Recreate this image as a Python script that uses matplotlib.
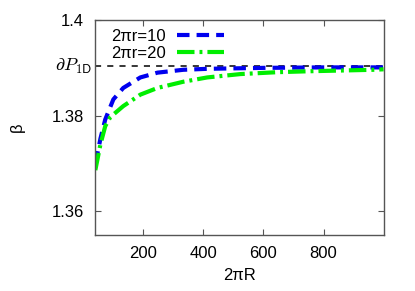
import numpy as np
from matplotlib import pyplot as plt

plt.rcParams['font.family'] = ['Liberation Sans', 'DejaVu Sans']
plt.rcParams['font.size'] = 12

# values
R_blue = [40, 50, 57, 73, 100, 133, 190, 247, 333, 413, 600, 800, 1000]
beta_blue = [1.3700, 1.3730, 1.3752, 1.3792, 1.3834, 1.3858, 1.3880, 1.3890,
             1.3896, 1.3898, 1.3900, 1.3901, 1.3901]
R_green = [40, 57, 73, 90, 133, 190, 247, 333, 413, 523, 647, 757, 967, 1000]
beta_green = [1.3686, 1.3740, 1.3778, 1.3797, 1.3820, 1.3844, 1.3858, 1.3871,
              1.3880, 1.3887, 1.3891, 1.3893, 1.3896, 1.3897]
dP1D = 1.3903
labels = ["2\u03c0r=10", "2\u03c0r=20"]
xticks = [200, 400, 600, 800]
yticks = [1.36, 1.38, 1.4]
ytick_labels = ["1.36", "1.38", "1.4"]

fig = plt.figure(figsize=(4.15, 2.91), dpi=100)
ax = fig.add_axes([0.229, 0.192, 0.696, 0.739])

ax.axhline(dP1D, color='black', lw=1.1, dashes=(4, 4))
ax.plot(R_blue, beta_blue, color='#0000ee', lw=3, dashes=(3.0, 1.7),
        label=labels[0])
ax.plot(R_green, beta_green, color='#00ee00', lw=3,
        dashes=(4.2, 1.2, 0.7, 1.2), label=labels[1])

ax.set_xlim(39, 1001)
ax.set_ylim(1.355, 1.4)
ax.set_xticks(xticks)
ax.set_yticks(yticks)
ax.set_yticklabels(ytick_labels)
ax.tick_params(direction='in', top=True, right=True, length=4,
               color='#555555', pad=8)
for s in ax.spines.values():
    s.set_color('#555555')
    s.set_linewidth(1.0)

ax.text(-0.01, dP1D, r'$\partial P_{\mathsf{1D}}$', transform=ax.get_yaxis_transform(),
        ha='right', va='center', fontsize=13, math_fontfamily='cm')

ax.set_xlabel("2\u03c0R", labelpad=5)
ax.set_ylabel("\u03b2", labelpad=19)

ax.legend(loc='upper left', bbox_to_anchor=(0.005, 1.03), frameon=False,
          markerfirst=False, handlelength=2.8, labelspacing=0.15,
          handletextpad=0.65)

plt.savefig("out.png", dpi=100)
